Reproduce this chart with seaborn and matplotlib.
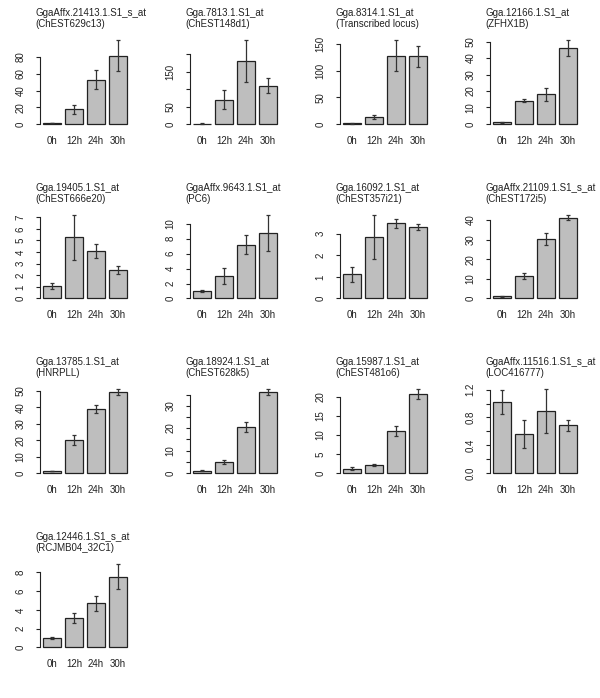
import numpy as np
import pandas as pd
import seaborn as sns
import matplotlib.pyplot as plt

# time points on the x axis
times = ["0h", "12h", "24h", "30h"]

titles = [
    "GgaAffx.21413.1.S1_s_at\n(ChEST629c13)",
    "Gga.7813.1.S1_at\n(ChEST148d1)",
    "Gga.8314.1.S1_at\n(Transcribed locus)",
    "Gga.12166.1.S1_at\n(ZFHX1B)",
    "Gga.19405.1.S1_at\n(ChEST666e20)",
    "GgaAffx.9643.1.S1_at\n(PC6)",
    "Gga.16092.1.S1_at\n(ChEST357i21)",
    "GgaAffx.21109.1.S1_s_at\n(ChEST172i5)",
    "Gga.13785.1.S1_at\n(HNRPLL)",
    "Gga.18924.1.S1_at\n(ChEST628k5)",
    "Gga.15987.1.S1_at\n(ChEST481o6)",
    "GgaAffx.11516.1.S1_s_at\n(LOC416777)",
    "Gga.12446.1.S1_s_at\n(RCJMB04_32C1)",
]

# mean expression per time point (relative to 0h)
means = [
    [1.0, 17.5, 53.0, 81.5],
    [1.0, 70.0, 180.0, 110.0],
    [1.0, 12.5, 128.0, 127.0],
    [1.0, 14.0, 18.0, 46.0],
    [1.1, 5.25, 4.1, 2.48],
    [1.05, 3.0, 7.2, 8.8],
    [1.12, 2.85, 3.48, 3.31],
    [1.0, 11.3, 30.2, 41.2],
    [1.0, 20.2, 38.8, 49.2],
    [1.0, 4.8, 20.5, 36.0],
    [1.13, 2.09, 11.0, 20.6],
    [1.02, 0.56, 0.89, 0.685],
    [0.99, 3.1, 4.7, 7.55],
]

# error bar half-lengths
errors = [
    [0.3, 5.5, 11.0, 18.5],
    [0.5, 27.0, 60.0, 22.0],
    [0.6, 4.0, 29.0, 20.0],
    [0.2, 0.9, 4.0, 4.8],
    [0.27, 1.95, 0.62, 0.35],
    [0.12, 1.05, 1.25, 2.4],
    [0.35, 1.03, 0.21, 0.13],
    [0.1, 1.6, 3.0, 1.4],
    [0.1, 3.0, 2.4, 1.8],
    [0.2, 1.0, 2.1, 1.3],
    [0.3, 0.3, 1.3, 1.3],
    [0.17, 0.2, 0.315, 0.075],
    [0.1, 0.53, 0.78, 1.35],
]

# y axis ticks: top tick, step, and tick values left unlabeled
tick_top = [80, 200, 150, 50, 7, 10, 3, 40, 50, 35, 20, 1.2, 8]
tick_step = [20, 50, 50, 10, 1, 2, 1, 10, 10, 5, 5, 0.2, 2]
unlabeled = [[], [100, 200], [], [], [], [], [], [], [], [5, 15, 25, 35], [],
             [0.2, 0.6, 1.0], []]

sns.set_style("white")
plt.rcParams['font.family'] = ['Liberation Sans', 'DejaVu Sans']

fig = plt.figure(figsize=(6, 6.98), dpi=100)
W, H = 600, 698
col_w, row_h = 150, 174.5
fs = 7.0
ink = "#222222"

for i, title in enumerate(titles):
    r, c = divmod(i, 4)
    left = c * col_w + 39.6
    top = r * row_h + 37
    ax = fig.add_axes([left / W, 1 - (top + 90.3) / H, 90.8 / W, 90.3 / H])

    df = pd.DataFrame({"time": times, "value": means[i]})
    sns.barplot(data=df, x="time", y="value", color="#BEBEBE", saturation=1,
                width=1 / 1.2, edgecolor=ink, linewidth=0.9, errorbar=None, ax=ax)
    ax.errorbar(np.arange(len(times)), means[i], yerr=errors[i], fmt="none",
                ecolor="#333333", elinewidth=0.9, capsize=1.6, capthick=0.9)

    m = max(np.array(means[i]) + np.array(errors[i]))
    ax.set_ylim(-0.04 * m, 1.04 * m)
    ax.set_xlim(-0.57, 3.57)

    ticks = np.round(np.arange(0, tick_top[i] + tick_step[i] / 2, tick_step[i]), 6)
    if tick_step[i] < 1:
        labels = [f"{t:.1f}" for t in ticks]
    else:
        labels = [f"{t:g}" for t in ticks]
    labels = ["" if any(abs(t - u) < 1e-9 for u in unlabeled[i]) else lab
              for t, lab in zip(ticks, labels)]
    ax.set_yticks(ticks)
    ax.set_yticklabels(labels)
    for lab in ax.get_yticklabels():
        lab.set_rotation(90)
        lab.set_va("center")

    ax.tick_params(axis="y", length=3, width=0.8, color=ink, pad=7,
                   labelsize=fs, labelcolor=ink, left=True)
    ax.tick_params(axis="x", length=0, pad=6, labelsize=fs, labelcolor=ink)
    for s in ["top", "right", "bottom"]:
        ax.spines[s].set_visible(False)
    ax.spines["left"].set_bounds(0, tick_top[i])
    ax.spines["left"].set_linewidth(0.8)
    ax.spines["left"].set_color(ink)

    ax.set_xlabel("")
    ax.set_ylabel("")
    t = ax.set_title(title, loc="left", fontsize=fs, color=ink, pad=7, linespacing=1.15)
    t.set_x(-0.045)

fig.savefig("out.png", dpi=100)
